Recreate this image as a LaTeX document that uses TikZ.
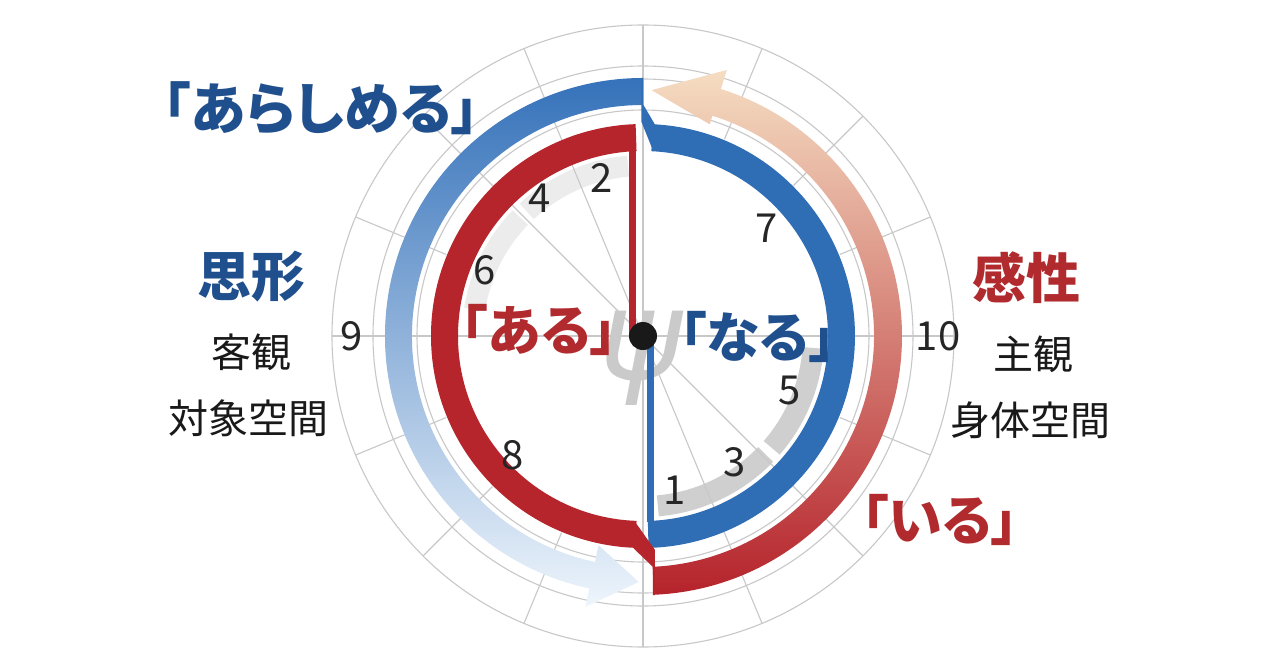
\documentclass[tikz,border=0pt]{standalone}
\usepackage{fontspec}
\setmainfont{Noto Sans CJK JP}
\newfontfamily\jpfont[RawFeature=+palt]{Noto Sans CJK JP}
\newfontfamily\psifont{DejaVu Sans}

\definecolor{textblue}{HTML}{204F8E}
\definecolor{textred}{HTML}{B02A2E}
\definecolor{bandblue}{HTML}{2F6DB5}
\definecolor{bandred}{HTML}{B7252C}
\definecolor{gridgray}{HTML}{C8C8C8}
\definecolor{darkband}{HTML}{CFCFCF}
\definecolor{lightband}{HTML}{ECECEC}
\definecolor{psigray}{HTML}{CACACA}
\definecolor{bluetop}{HTML}{3572BA}
\definecolor{bluemid}{HTML}{6A9FD4}
\definecolor{bluebottom}{HTML}{EEF5FC}
\definecolor{redbottom}{HTML}{B5232B}
\definecolor{redmid}{HTML}{DD9283}
\definecolor{redtop}{HTML}{F5DDC2}

\tikzstyle{gridline}=[draw=gridgray,line width=1.1pt]
\tikzstyle{grayband}=[line width=21pt]
\tikzstyle{numlabel}=[font=\fontsize{40}{40}\selectfont,text=black!85,inner sep=0pt]
\tikzstyle{titleblue}=[font=\jpfont\bfseries\fontsize{54}{54}\selectfont,text=textblue,inner sep=0pt]
\tikzstyle{titlered}=[font=\jpfont\bfseries\fontsize{54}{54}\selectfont,text=textred,inner sep=0pt]
\tikzstyle{termblue}=[font=\jpfont\bfseries\fontsize{54}{54}\selectfont,text=textblue,inner sep=0pt]
\tikzstyle{termred}=[font=\jpfont\bfseries\fontsize{54}{54}\selectfont,text=textred,inner sep=0pt]
\tikzstyle{subtext}=[font=\fontsize{40}{40}\selectfont,text=black!90,inner sep=0pt]
\tikzstyle{centerdot}=[circle,fill=black!90,minimum size=28pt,inner sep=0pt]

\begin{document}
\begin{tikzpicture}[x=1pt,y=1pt]
\useasboundingbox[fill=white] (-643,-334) rectangle (637,336);

% gray inner bands
\draw[grayband,lightband] (95:170.5) arc[start angle=95,end angle=133,radius=170.5pt];
\draw[grayband,lightband] (136:170.5) arc[start angle=136,end angle=171,radius=170.5pt];
\draw[grayband,darkband] (-85:170.5) arc[start angle=-85,end angle=-44,radius=170.5pt];
\draw[grayband,darkband] (-41:170.5) arc[start angle=-41,end angle=-4,radius=170.5pt];

% grid
\draw[gridline] (0,0) circle (311pt);
\draw[gridline] (0,0) circle (270pt);
\draw[gridline] (0,0) circle (257pt);
\draw[gridline] (0,0) circle (226pt);
\foreach \a in {0,22.5,...,337.5}
  \draw[gridline] (\a:213) -- (\a:311);
\draw[gridline] (90:311) -- (270:311);
\draw[gridline] (0:311) -- (180:311);
\draw[gridline] (112.5:213) -- (292.5:213);
\draw[gridline] (135:213) -- (315:213);

\node[text=psigray,font=\psifont\itshape\fontsize{125}{125}\selectfont,inner sep=0pt] (psi) at (-2,-22) {ψ};

% outer blue band (arashimeru)
\shade[top color=bluetop,middle color=bluemid,bottom color=bluebottom]
  (90:258) arc[start angle=90,end angle=258,radius=258pt] -- (258:277) -- (269:246)
  -- (258:214) -- (258:231) arc[start angle=258,end angle=90,radius=231pt] -- cycle;

% outer red band (iru)
\shade[top color=redtop,middle color=redmid,bottom color=redbottom]
  (-87.6:259) arc[start angle=-87.6,end angle=72.5,radius=259pt] -- (72.5:279) -- (88:246)
  -- (72.5:222) -- (72.5:231) arc[start angle=72.5,end angle=-87.6,radius=231pt] -- cycle;

% inner bands
\fill[bandblue] (87.4:212) arc[start angle=87.4,end angle=-88.5,radius=212pt]
  -- (-88.5:185) arc[start angle=-88.5,end angle=87.4,radius=185pt] -- cycle;
\fill[bandred] (92:212) arc[start angle=92,end angle=268,radius=212pt]
  -- (268:185) arc[start angle=268,end angle=92,radius=185pt] -- cycle;

% steps
\fill[bandblue] (0.5,258) -- (0.5,231) -- (86.8:212) -- (86.8:185) -- (-1.5,214) -- (-1.5,258) -- cycle;
\fill[bandred] (10,-259) -- (10,-231) -- (267.3:212) -- (267.3:185) -- (12,-214) -- (12,-259) -- cycle;

% lines to the centre
\coordinate (O) at (0,0);
\coordinate (RTOP) at (-10.5,186);
\coordinate (BBOT) at (8,-186);
\draw[bandred,line width=7pt] (RTOP) -- (RTOP |- O);
\draw[bandblue,line width=7pt] (BBOT) -- (BBOT |- O);
\node[centerdot] (dot) at (O) {};

% numbers
\node[numlabel] (n1) at (32,-154) {1};
\node[numlabel] (n2) at (-41,158) {2};
\node[numlabel] (n3) at (92,-126) {3};
\node[numlabel] (n4) at (-103,138) {4};
\node[numlabel] (n5) at (147,-54) {5};
\node[numlabel] (n6) at (-158,66) {6};
\node[numlabel] (n7) at (124,108) {7};
\node[numlabel] (n8) at (-130,-119) {8};
\node[numlabel] (n9) at (-291,0) {9};
\node[numlabel] (n10) at (295,0) {10};

% terms
\node[termred] (aru) at (-104,6) {「ある」};
\node[termblue] (naru) at (115,-1) {「なる」};
\node[termred] (iru) at (297,-184) {「いる」};
\node[termblue,font=\jpfont\bfseries\fontsize{56}{56}\selectfont] (arashimeru) at (-322,228) {「あらしめる」};

% side texts
\node[titleblue] (shikei) at (-391,59) {思形};
\node[subtext] (kyakkan) at (-391,-16) {客観};
\node[subtext] (taisho) at (-394,-82) {対象空間};
\node[titlered] (kansei) at (383,58) {感性};
\node[subtext] (shukan) at (390,-18) {主観};
\node[subtext] (shintai) at (387,-84) {身体空間};

\end{tikzpicture}
\end{document}
